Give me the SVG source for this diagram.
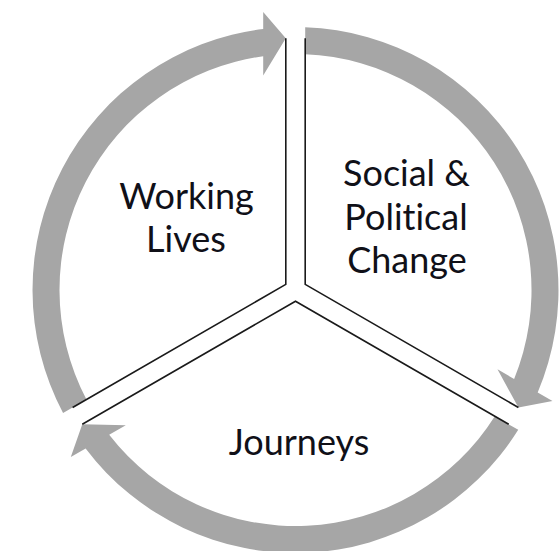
<svg xmlns="http://www.w3.org/2000/svg" xmlns:xlink="http://www.w3.org/1999/xlink" width="560" height="551" viewBox="0 0 560 551">
  <style>
    .arc { fill: #a6a6a6; }
    .edge { fill: none; stroke: #1a1a1a; stroke-width: 1.6; stroke-linejoin: miter; }
    .label { font-family: Lato, "Open Sans", sans-serif; font-size: 36px; fill: #101018; text-anchor: middle; font-variant-ligatures: none; font-feature-settings: "liga" 0; }
  </style>
  <defs>
    <!-- One curved arrow of the cycle, drawn around the origin (ring centre);
         it runs clockwise from the lower-left gap to the top gap. -->
    <path id="cycle-arrow" d="M -232.45 123 A 263 263 0 0 1 -32.3 -261 L -32.3 -278.1 L -9.7 -251.8 L -32.3 -214.6 L -32.3 -233.8 A 236 236 0 0 0 -209.05 109.5 Z"/>
  </defs>
  <rect width="560" height="551" fill="#ffffff"/>

  <!-- cycle arrows -->
  <g id="connectors">
    <use xlink:href="#cycle-arrow" class="arc" transform="translate(295.5 290)"/>
    <use xlink:href="#cycle-arrow" class="arc" transform="translate(295.5 290) rotate(120)"/>
    <use xlink:href="#cycle-arrow" class="arc" transform="translate(295.5 290) rotate(240)"/>
  </g>

  <g id="working-lives">
    <path class="edge" d="M 285.8 38.2 L 285.8 284.4 L 72.6 407.5"/>
    <text class="label" x="186.5" y="209">Working</text>
    <text class="label" x="186" y="252">Lives</text>
  </g>

  <g id="social-political-change">
    <path class="edge" d="M 305.2 38.2 L 305.2 284.4 L 518.4 407.5"/>
    <text class="label" x="406.5" y="186">Social &amp;</text>
    <text class="label" x="406" y="229.5">Political</text>
    <text class="label" x="407" y="273">Change</text>
  </g>

  <g id="journeys">
    <path class="edge" d="M 82.3 424.3 L 295.5 301.2 L 508.7 424.3"/>
    <text class="label" x="299" y="455">Journeys</text>
  </g>
</svg>
